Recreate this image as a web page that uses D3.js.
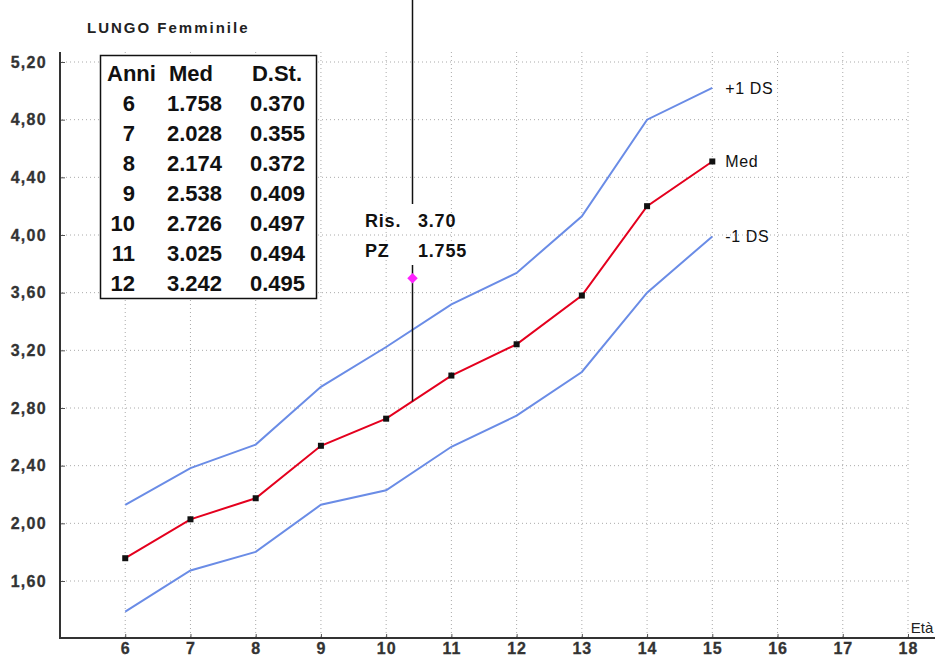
<!DOCTYPE html>
<html>
<head>
<meta charset="utf-8">
<script src="https://cdn.jsdelivr.net/npm/d3@7"></script>
<style>
  body { margin: 0; background: #fff; }
  svg { display: block; font-family: "Liberation Sans", Arial, sans-serif; }
</style>
</head>
<body>
<div id="main"></div>
<script>
// eta (anni)
const ages = [6, 7, 8, 9, 10, 11, 12, 13, 14, 15];
// mediana
const medVals = [1.758, 2.028, 2.174, 2.538, 2.726, 3.025, 3.242, 3.58, 4.20, 4.51];
// +1 DS
const upperVals = [2.128, 2.383, 2.546, 2.947, 3.223, 3.519, 3.737, 4.13, 4.80, 5.02];
// -1 DS
const lowerVals = [1.388, 1.673, 1.802, 2.129, 2.229, 2.531, 2.747, 3.05, 3.60, 3.99];

// tabella
const tableHeader = ["Anni", "Med", "D.St."];
const tableAnni = [6, 7, 8, 9, 10, 11, 12];
const tableMed = ["1.758", "2.028", "2.174", "2.538", "2.726", "3.025", "3.242"];
const tableSd = ["0.370", "0.355", "0.372", "0.409", "0.497", "0.494", "0.495"];

const yTicks = [1.6, 2.0, 2.4, 2.8, 3.2, 3.6, 4.0, 4.4, 4.8, 5.2];
const xTicks = [6, 7, 8, 9, 10, 11, 12, 13, 14, 15, 16, 17, 18];

// rilevazione
const risAge = 10.4;
const risVal = 3.70;
const risPz = "1.755";

const W = 941, H = 659;
const svg = d3.select("#main").append("svg").attr("width", W).attr("height", H);

const x = d3.scaleLinear().domain([5, 18]).range([60, 908]);
const y = d3.scaleLinear().domain([1.6, 5.2]).range([581, 62]);
const axisY = 638;

const grid = svg.append("g").attr("stroke", "#aaa").attr("stroke-dasharray", "1,3");
grid.selectAll(".hg").data(yTicks).join("line")
  .attr("x1", 62).attr("x2", x(18))
  .attr("y1", d => y(d)).attr("y2", d => y(d));
grid.selectAll(".vg").data(xTicks).join("line")
  .attr("x1", d => x(d)).attr("x2", d => x(d))
  .attr("y1", 52).attr("y2", axisY);

// Asse Y
const gy = svg.append("g").attr("transform", "translate(60,0)")
  .call(d3.axisLeft(y).tickValues(yTicks).tickSize(-5).tickPadding(13)
    .tickFormat(d => d3.format(".2f")(d).replace(".", ",")));
gy.select(".domain").remove();
gy.selectAll(".tick line").attr("stroke", "#555");
gy.selectAll("text").style("font-size", "16px").attr("font-weight", "bold")
  .attr("fill", "#333").attr("stroke", "#333").attr("stroke-width", 0.3)
  .attr("letter-spacing", 1.3);
svg.append("line").attr("x1", 60).attr("x2", 60).attr("y1", 52).attr("y2", axisY + 1)
  .attr("stroke", "#333").attr("stroke-width", 2);

// Asse X
const gx = svg.append("g").attr("transform", `translate(0,${axisY})`)
  .call(d3.axisBottom(x).tickValues(xTicks).tickSize(-4).tickPadding(5));
gx.select(".domain").remove();
gx.selectAll(".tick line").attr("stroke", "#555");
gx.selectAll("text").style("font-size", "16px").attr("font-weight", "bold")
  .attr("fill", "#333").attr("stroke", "#333").attr("stroke-width", 0.3)
  .attr("letter-spacing", 1);
svg.append("line").attr("x1", 59).attr("x2", 935).attr("y1", axisY).attr("y2", axisY)
  .attr("stroke", "#333").attr("stroke-width", 2);
svg.append("text").attr("x", 922).attr("y", axisY - 5).attr("text-anchor", "middle")
  .attr("font-size", 15).attr("fill", "#222").text("Età");

// Curve
const line = d3.line().x((d, i) => x(ages[i])).y(d => y(d));
svg.append("path").attr("d", line(upperVals)).attr("fill", "none")
  .attr("stroke", "#6a8ce6").attr("stroke-width", 2);
svg.append("path").attr("d", line(lowerVals)).attr("fill", "none")
  .attr("stroke", "#6a8ce6").attr("stroke-width", 2);
svg.append("path").attr("d", line(medVals)).attr("fill", "none")
  .attr("stroke", "#e4001e").attr("stroke-width", 2);
svg.selectAll(".mk").data(medVals).join("rect")
  .attr("x", (d, i) => x(ages[i]) - 3).attr("y", d => y(d) - 3)
  .attr("width", 6).attr("height", 6).attr("fill", "#111");

// Etichette curve
const last = ages.length - 1;
const lbl = [["+1 DS", upperVals[last]], ["Med", medVals[last]], ["-1 DS", lowerVals[last]]];
svg.selectAll(".cl").data(lbl).join("text")
  .attr("x", x(ages[last]) + 13).attr("y", d => y(d[1]) + 6)
  .attr("font-size", 16).attr("fill", "#111").attr("letter-spacing", 0.6).text(d => d[0]);

// Linea rilevazione
const medAtRis = d3.scaleLinear().domain(ages).range(medVals)(risAge);
const rx = Math.round(x(risAge)) + 0.5;
svg.append("line").attr("x1", rx).attr("x2", rx).attr("y1", 0).attr("y2", 204)
  .attr("stroke", "#111").attr("stroke-width", 1.5);
svg.append("line").attr("x1", rx).attr("x2", rx).attr("y1", 265).attr("y2", y(medAtRis))
  .attr("stroke", "#111").attr("stroke-width", 1.5);
svg.append("path").attr("d", d3.symbol(d3.symbolDiamond2, 70)())
  .attr("transform", `translate(${rx},${y(risVal)})`).attr("fill", "#ff22ff");
const risText = svg.append("g").attr("font-size", 18).attr("font-weight", "bold")
  .attr("fill", "#111").attr("letter-spacing", 0.8);
risText.append("text").attr("x", 365).attr("y", 227).text("Ris.");
risText.append("text").attr("x", 418).attr("y", 227).text(d3.format(".2f")(risVal));
risText.append("text").attr("x", 365).attr("y", 257).text("PZ");
risText.append("text").attr("x", 418).attr("y", 257).text(risPz);

// Tabella
const tb = svg.append("g");
tb.append("rect").attr("x", 100.5).attr("y", 55.5).attr("width", 216).attr("height", 243)
  .attr("fill", "#fff").attr("stroke", "#111").attr("stroke-width", 1.5);
const tf = tb.append("g").attr("font-size", 22).attr("font-weight", "bold").attr("fill", "#111");
tf.append("text").attr("x", 107).attr("y", 81).text(tableHeader[0]);
tf.append("text").attr("x", 169).attr("y", 81).text(tableHeader[1]);
tf.append("text").attr("x", 302).attr("y", 81).attr("text-anchor", "end").text(tableHeader[2]);
tf.selectAll(".ta").data(tableAnni).join("text")
  .attr("x", 135).attr("y", (d, i) => 111 + i * 30).attr("text-anchor", "end").text(d => d);
tf.selectAll(".tm").data(tableMed).join("text")
  .attr("x", 222).attr("y", (d, i) => 111 + i * 30).attr("text-anchor", "end").text(d => d);
tf.selectAll(".ts").data(tableSd).join("text")
  .attr("x", 305).attr("y", (d, i) => 111 + i * 30).attr("text-anchor", "end").text(d => d);

// Titolo
svg.append("text").attr("x", 87).attr("y", 33).attr("font-size", 15).attr("font-weight", "bold")
  .attr("fill", "#222").attr("letter-spacing", 2).text("LUNGO  Femminile");
</script>
</body>
</html>
